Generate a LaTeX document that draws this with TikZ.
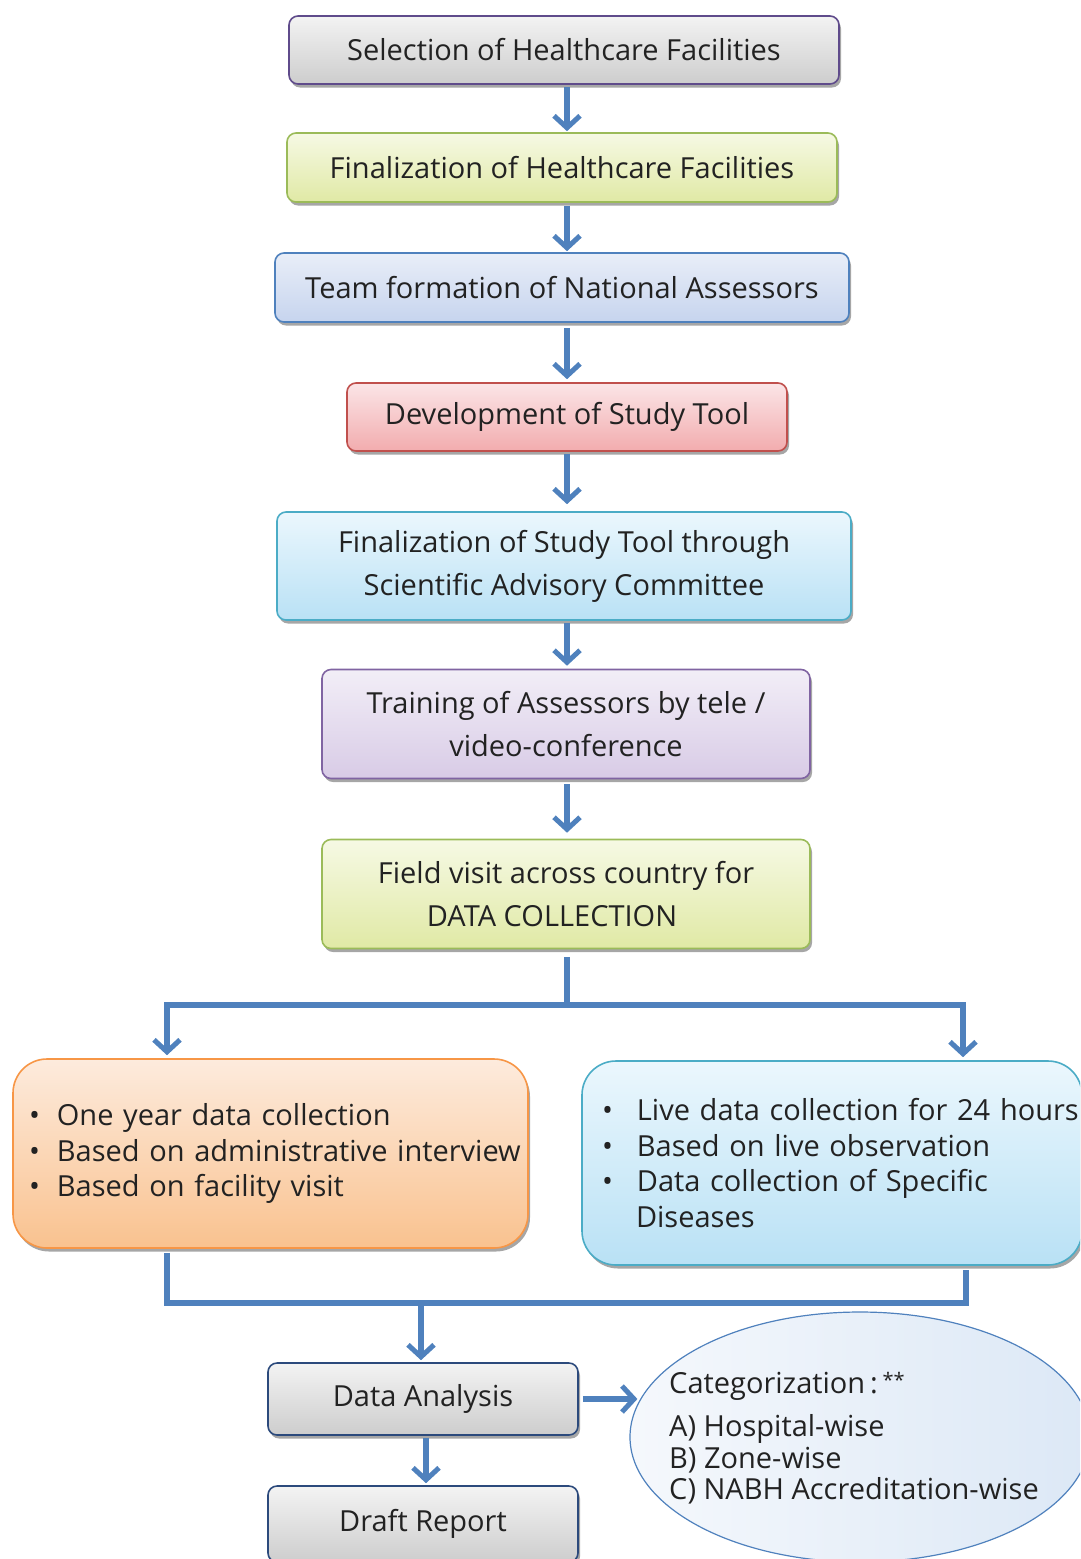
\documentclass[tikz,border=0pt]{standalone}
\usepackage{fontspec}
\setmainfont{Open Sans}
\usetikzlibrary{arrows.meta,shadows,shapes.geometric}
\definecolor{arrblue}{HTML}{4F81BD}
\definecolor{txt}{HTML}{222222}
\newcommand{\fs}{\fontsize{29}{43}\selectfont}
\newcommand{\fsb}{\fontsize{29}{35.5}\selectfont}
\newcommand{\fse}{\fontsize{29}{31}\selectfont}
\definecolor{greenb}{HTML}{9BBB59}
\definecolor{gtop}{HTML}{F6F9E4}\definecolor{gbot}{HTML}{E0E9A5}
\definecolor{btop}{HTML}{E9EEF8}\definecolor{bbot}{HTML}{C6D4EE}
\definecolor{rtop}{HTML}{FBE5E7}\definecolor{rbot}{HTML}{F2ACAE}\definecolor{rb}{HTML}{C0504D}
\definecolor{ctop}{HTML}{EBF7FD}\definecolor{cbot}{HTML}{B9E1F5}\definecolor{cb}{HTML}{4BACC6}
\definecolor{ptop}{HTML}{F2EEF7}\definecolor{pbot}{HTML}{D8CBE6}\definecolor{pb}{HTML}{8064A2}
\definecolor{otop}{HTML}{FDEBDD}\definecolor{obot}{HTML}{F9C28F}\definecolor{ob}{HTML}{F79646}
\definecolor{etop}{HTML}{F5F8FC}\definecolor{ebot}{HTML}{DCE8F6}
\definecolor{ytop}{HTML}{F3F3F3}\definecolor{ybot}{HTML}{CDCDCD}
\definecolor{purpleb}{HTML}{5F4B8B}\definecolor{navyb}{HTML}{2C4A7C}
\tikzset{
  box/.style={rounded corners=9pt, line width=1.6pt, align=center, text=txt, font=\fs,
    inner sep=0pt, drop shadow={shadow xshift=2pt, shadow yshift=-3.5pt, fill=black, opacity=0.35}},
  gbox/.style={box, top color=ytop, bottom color=ybot, draw=#1},
  grbox/.style={box, top color=gtop, bottom color=gbot, draw=greenb},
  conn/.style={draw=arrblue, line width=5.5pt},
  arr/.style={conn, -{Straight Barb[length=12pt,width=26pt,line width=5pt]}},
  etext/.style={anchor=west, text=txt, font=\fse, inner sep=0pt},
}
\begin{document}
\begin{tikzpicture}[x=1pt,y=-1pt]
\useasboundingbox (0,0) rectangle (1080,1559);
\clip (0,0) rectangle (1080,1559);
\coordinate (ax) at (567,0);
% main chain
\node[gbox=purpleb, minimum width=550pt, minimum height=68pt] (b1) at (564,50) {Selection of Healthcare Facilities};
\node[grbox, minimum width=550pt, minimum height=69pt] (b2) at (562,167.5) {Finalization of Healthcare Facilities};
\node[box, top color=btop, bottom color=bbot, draw=arrblue, minimum width=574pt, minimum height=69pt] (b3) at (562,287.5) {Team formation of National Assessors};
\node[box, top color=rtop, bottom color=rbot, draw=rb, minimum width=440pt, minimum height=68pt] (b4) at (567,417) {Development of Study Tool};
\node[box, top color=ctop, bottom color=cbot, draw=cb, minimum width=574pt, minimum height=108pt] (b5) at (564,566) {Finalization of Study Tool through\\Scientific Advisory Committee};
\node[box, top color=ptop, bottom color=pbot, draw=pb, minimum width=488pt, minimum height=109pt] (b6) at (566,724) {Training of Assessors by tele /\\video-conference};
\node[grbox, minimum width=488pt, minimum height=109pt] (b7) at (566,894) {Field visit across country for\\DATA COLLECTION\hspace*{28pt}};

\draw[arr, shorten <=2pt, shorten >=1pt] (b1.south -| ax) -- (b2.north -| ax);
\draw[arr, shorten <=3pt, shorten >=1pt] (b2.south -| ax) -- (b3.north -| ax);
\draw[arr, shorten <=5pt, shorten >=3pt] (b3.south -| ax) -- (b4.north -| ax);
\draw[arr, shorten <=2pt, shorten >=7pt] (b4.south -| ax) -- (b5.north -| ax);
\draw[arr, shorten <=2pt, shorten >=3pt] (b5.south -| ax) -- (b6.north -| ax);
\draw[arr, shorten <=5pt, shorten >=6pt] (b6.south -| ax) -- (b7.north -| ax);

% branch
\coordinate (j1) at (567,1005);
\coordinate (jl) at (167,1005);
\coordinate (jr) at (963,1005);
\draw[conn, shorten <=8pt] (b7.south -| ax) -- (j1);
\draw[conn, line cap=rect] (jl) -- (jr);

\node[box, rounded corners=34pt, top color=otop, bottom color=obot, draw=ob, minimum width=515pt, minimum height=189pt, align=left, font=\fsb, text width=505pt] (lb) at (270.5,1153.5)
 {\hspace*{11pt}\textbullet\hspace{17pt}One year data collection\\
  \hspace*{11pt}\textbullet\hspace{17pt}Based on administrative interview\\
  \hspace*{11pt}\textbullet\hspace{17pt}Based on facility visit};
\node[box, rounded corners=34pt, top color=ctop, bottom color=cbot, draw=cb, minimum width=500pt, minimum height=204pt, align=left, font=\fsb, text width=480pt] (rb) at (832,1163)
 {\hspace*{10pt}\textbullet\hspace{24pt}\mbox{Live data collection for 24 hours}\\
  \hspace*{10pt}\textbullet\hspace{24pt}\mbox{Based on live observation}\\
  \hspace*{10pt}\textbullet\hspace{24pt}\mbox{Data collection of Specific}\\
  \hspace*{44pt}Diseases};

\draw[arr, shorten >=3pt] (jl) -- (jl |- lb.north);
\draw[arr, shorten >=3pt] (jr) -- (jr |- rb.north);

% merge
\coordinate (ml) at (167,1303);
\coordinate (mr) at (966,1303);
\coordinate (mc) at (421,1303);
\draw[conn, shorten <=4pt] (lb.south -| ml) -- (ml) -- (mr) -- ([yshift=-4pt]rb.south -| mr);

\node[gbox=navyb, minimum width=310pt, minimum height=72pt] (da) at (423,1399) {Data Analysis};
\node[gbox=navyb, minimum width=310pt, minimum height=76pt] (dr) at (423,1524) {Draft Report};
\coordinate (dx) at (426,0);
\draw[arr, shorten >=2pt] (mc) -- (mc |- da.north);
\draw[arr, shorten <=2pt, shorten >=2pt] (da.south -| dx) -- (dr.north -| dx);

\node[ellipse, draw=arrblue, line width=1.2pt, left color=etop, right color=ebot, minimum width=460pt, minimum height=250pt, inner sep=0pt] (el) at (860,1437) {};
\draw[arr, shorten <=4pt, shorten >=-8pt] (da.east) -- (da.east -| el.west);
\node[etext] (c0) at (669,1386) {Categorization\,:\,\raisebox{6pt}{\fontsize{20}{20}\selectfont**}};
\node[etext] (c1) at (669,1429) {A) Hospital-wise};
\node[etext] (c2) at (669,1460) {B) Zone-wise};
\node[etext] (c3) at (669,1491) {C) NABH Accreditation-wise};
\end{tikzpicture}
\end{document}
